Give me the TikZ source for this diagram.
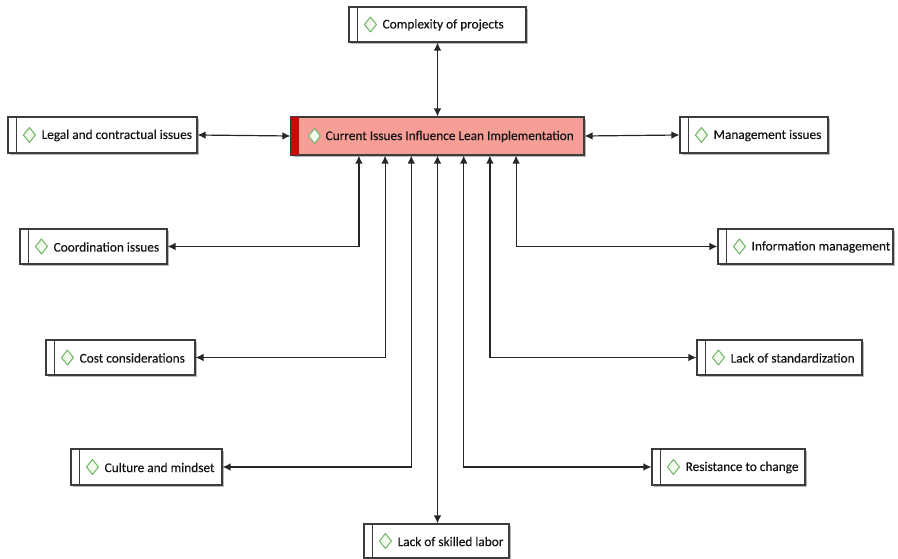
\documentclass[tikz,border=0pt]{standalone}
\usepackage{fontspec}
\setmainfont{Carlito}
\newfontfamily\labelfont{Carlito}[FakeBold=0.35]
\usetikzlibrary{arrows.meta,shadows}

\definecolor{boxline}{RGB}{60,60,60}
\definecolor{corefill}{RGB}{247,158,150}
\definecolor{corestrip}{RGB}{200,10,10}
\definecolor{gemline}{RGB}{110,180,100}
\definecolor{gemfill}{RGB}{240,249,236}
\definecolor{ink}{RGB}{20,20,20}

\tikzset{
  box/.style={draw=boxline, line width=1.1pt, fill=white, inner sep=0pt,
    drop shadow={shadow xshift=1.6pt, shadow yshift=-1.6pt, fill=gray!55, opacity=1}},
  corebox/.style={box, fill=corefill},
  gem/.style={draw=gemline, fill=gemfill, line width=1pt, line join=round},
  lbl/.style={font=\labelfont\fontsize{13.3}{15}\selectfont, text=ink, inner sep=0pt},
  link/.style={draw=black!85, line width=1.2pt,
    {Latex[length=8pt,width=7.5pt]}-{Latex[length=8pt,width=7.5pt]}}
}

% issue box: name, left, top, right, bottom, label
\newcommand\issuebox[6]{%
  \node[box, minimum width={#4pt-#2pt}, minimum height={#5pt-#3pt}]
    (#1) at ({(#2+#4)/2},{(#3+#5)/2}) {};
  \draw[boxline, line width=0.9pt] ([xshift=9pt]#1.north west) -- ([xshift=9pt]#1.south west);
  \path[gem] ([xshift=16pt]#1.west) -- ++(6pt,-7.5pt) -- ++(6pt,7.5pt) -- ++(-6pt,7.5pt) -- cycle;
  \node[lbl, anchor=west] at ([xshift=34pt, yshift=-0.5pt]#1.west) {#6};
}

\begin{document}
\begin{tikzpicture}[x=1pt, y=-1pt]
  \useasboundingbox (0,0) rectangle (898,559);

  % central theme
  \node[corebox, minimum width=293pt, minimum height=38pt] (core) at (437.5,136) {};
  \fill[corestrip] ([xshift=0.55pt,yshift=-0.55pt]core.north west) rectangle ([xshift=9pt,yshift=0.55pt]core.south west);
  \path[gem] ([xshift=18pt]core.west) -- ++(6pt,-7.5pt) -- ++(6pt,7.5pt) -- ++(-6pt,7.5pt) -- cycle;
  \node[lbl, anchor=west] at ([xshift=35pt, yshift=-0.5pt]core.west) {Current Issues Influence Lean Implementation};

  % surrounding issues
  \issuebox{cplx}{349}{7}{526}{42}{Complexity of projects}
  \issuebox{legal}{8}{117}{197}{153}{Legal and contractual issues}
  \issuebox{mgmt}{680}{117}{828}{153}{Management issues}
  \issuebox{coord}{20}{229}{167}{264}{Coordination issues}
  \issuebox{info}{718}{229}{893}{264}{Information management}
  \issuebox{cost}{46}{340}{195}{375}{Cost considerations}
  \issuebox{stand}{697}{340}{862}{375}{Lack of standardization}
  \issuebox{cult}{71}{449}{222}{485}{Culture and mindset}
  \issuebox{resist}{652}{449}{805}{485}{Resistance to change}
  \issuebox{skill}{364}{524}{509}{558}{Lack of skilled labor}

  % connectors
  \draw[link] (cplx.south) -- (core.north);
  \draw[link] (legal.east) -- (core.west);
  \draw[link] (core.east) -- (mgmt.west);
  \draw[link] ([xshift=-78.6pt]core.south) |- (coord.east);
  \draw[link] ([xshift=-52.4pt]core.south) |- (cost.east);
  \draw[link] ([xshift=-26.2pt]core.south) |- (cult.east);
  \draw[link] (core.south) -- (skill.north -| core.south);
  \draw[link] ([xshift=26.2pt]core.south) |- (resist.west);
  \draw[link] ([xshift=52.4pt]core.south) |- (stand.west);
  \draw[link] ([xshift=78.6pt]core.south) |- (info.west);
\end{tikzpicture}
\end{document}
